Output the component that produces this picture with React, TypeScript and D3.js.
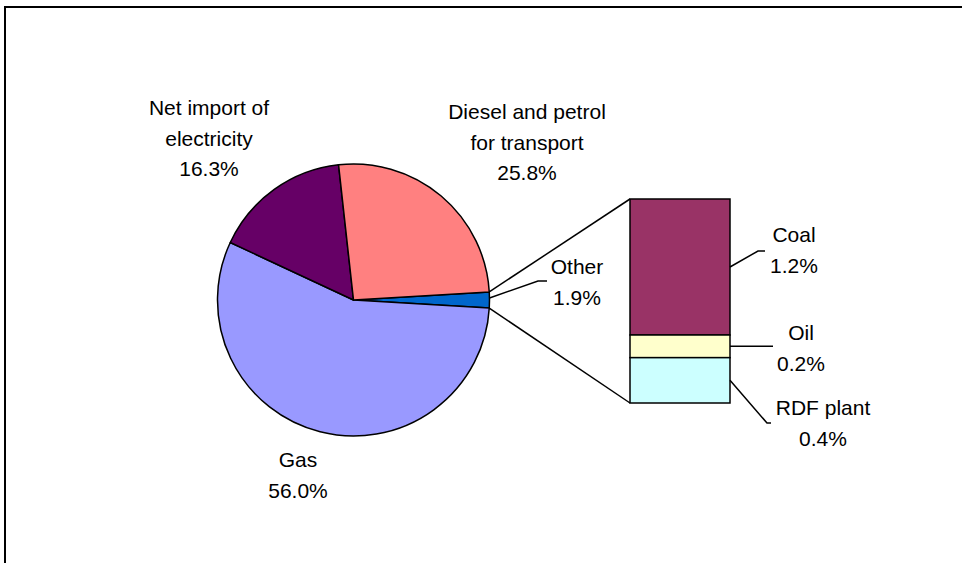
import React from "react";
import * as d3 from "d3";

const pieLabels = ["Other", "Gas", "Net import of electricity", "Diesel and petrol for transport"];
const pieValues = [1.9, 56.0, 16.3, 25.8];
const pieColors = ["#0066CC", "#9999FF", "#660066", "#FF8080"];

const barLabels = ["Coal", "Oil", "RDF plant"];
const barValues = [1.2, 0.2, 0.4];
const barColors = ["#993366", "#FFFFCC", "#CCFFFF"];

const W = 962;
const H = 563;
const cx = 353.5;
const cy = 300;
const R = 136;
const FONT = "'Liberation Sans', Arial, sans-serif";
const FS = 21;

export default function App() {
  const total = d3.sum(pieValues);
  const otherAngle = (pieValues[0] / total) * 2 * Math.PI;
  const start = Math.PI / 2 - otherAngle / 2;
  const pie = d3
    .pie<number>()
    .sort(null)
    .value((d) => d)
    .startAngle(start)
    .endAngle(start + 2 * Math.PI);
  const arcs = pie(pieValues);
  const arcGen = d3.arc<d3.PieArcDatum<number>>().innerRadius(0).outerRadius(R);

  const pt = (a: number, r: number) => [cx + r * Math.sin(a), cy - r * Math.cos(a)];

  const barX = 630;
  const barW = 100;
  const y = d3.scaleLinear().domain([0, d3.sum(barValues)]).range([199, 403]);
  let acc = 0;
  const bars = barValues.map((v, i) => {
    const y0 = y(acc);
    acc += v;
    const y1 = y(acc);
    return { v, i, y0, y1 };
  });

  const otherArc = arcs[0];
  const pTop = pt(otherArc.startAngle, R);
  const pBot = pt(otherArc.endAngle, R);
  const pMid = pt((otherArc.startAngle + otherArc.endAngle) / 2, R);

  const labelBlock = (lines: string[], x: number, y0: number, key: string) => (
    <text key={key} fontFamily={FONT} fontSize={FS} textAnchor="middle" fill="#000">
      {lines.map((l, i) => (
        <tspan key={i} x={x} y={y0 + i * 30.5}>
          {l}
        </tspan>
      ))}
    </text>
  );

  const line = d3.line();

  return (
    <svg
      width={W}
      height={H}
      style={{ position: "absolute", left: 0, top: 0, background: "#fff" }}
    >
      <rect x={5} y={7} width={W + 10} height={H + 10} fill="#fff" stroke="#000" strokeWidth={2} />
      <g transform={`translate(${cx},${cy})`}>
        {arcs.map((a, i) => (
          <path key={i} d={arcGen(a) || ""} fill={pieColors[i]} stroke="#000" strokeWidth={1.5} strokeLinejoin="round" />
        ))}
      </g>
      {/* connectors */}
      <path d={line([[pTop[0], pTop[1]], [barX, y(0)]]) || ""} stroke="#000" strokeWidth={1.5} fill="none" />
      <path d={line([[pBot[0], pBot[1]], [barX, y(d3.sum(barValues))]]) || ""} stroke="#000" strokeWidth={1.5} fill="none" />
      {bars.map((b) => (
        <rect key={b.i} x={barX} y={b.y0} width={barW} height={b.y1 - b.y0} fill={barColors[b.i]} stroke="#000" strokeWidth={1.5} />
      ))}
      {/* leader lines */}
      <path d={line([[pMid[0], pMid[1] - 2], [538, 281], [547, 281]]) || ""} stroke="#000" strokeWidth={1.5} fill="none" />
      <path d={line([[barX + barW, (bars[0].y0 + bars[0].y1) / 2], [758, 251], [765, 251]]) || ""} stroke="#000" strokeWidth={1.5} fill="none" />
      <path d={line([[barX + barW, (bars[1].y0 + bars[1].y1) / 2], [773, (bars[1].y0 + bars[1].y1) / 2]]) || ""} stroke="#000" strokeWidth={1.5} fill="none" />
      <path d={line([[barX + barW, (bars[2].y0 + bars[2].y1) / 2], [767, 423], [771, 423]]) || ""} stroke="#000" strokeWidth={1.5} fill="none" />
      {/* labels */}
      {labelBlock(["Net import of", "electricity", `${pieValues[2].toFixed(1)}%`], 209, 115, "ni")}
      {labelBlock(["Diesel and petrol", "for transport", `${pieValues[3].toFixed(1)}%`], 527, 119, "dp")}
      {labelBlock(["Gas", `${pieValues[1].toFixed(1)}%`], 298, 467, "gas")}
      {labelBlock(["Other", `${pieValues[0].toFixed(1)}%`], 577, 274, "oth")}
      {labelBlock(["Coal", `${barValues[0].toFixed(1)}%`], 794, 242, "coal")}
      {labelBlock(["Oil", `${barValues[1].toFixed(1)}%`], 801, 340, "oil")}
      {labelBlock(["RDF plant", `${barValues[2].toFixed(1)}%`], 823, 415, "rdf")}
    </svg>
  );
}
